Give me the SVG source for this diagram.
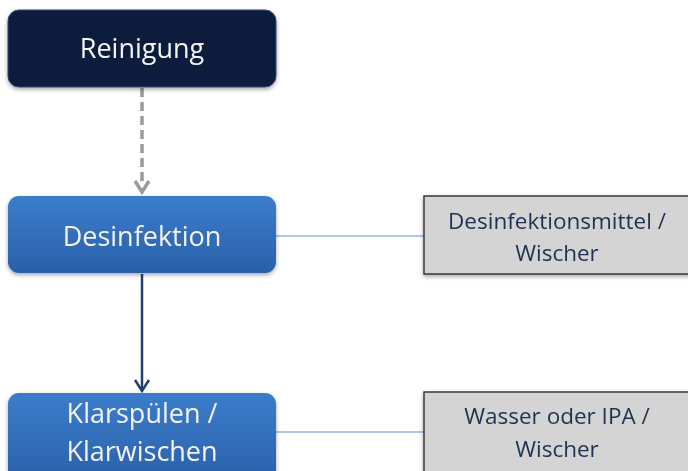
<svg xmlns="http://www.w3.org/2000/svg" width="688" height="471" viewBox="0 0 688 471">
<defs>
<linearGradient id="blue" x1="0" y1="0" x2="0" y2="1">
<stop offset="0" stop-color="#3b7dcb"/>
<stop offset="1" stop-color="#2a60aa"/>
</linearGradient>
<filter id="sh" x="-10%" y="-10%" width="120%" height="130%">
<feDropShadow dx="0" dy="2" stdDeviation="2" flood-color="#000" flood-opacity="0.35"/>
</filter>
</defs>
<style>
.node{filter:url(#sh)}
.t{font-family:"Open Sans","Liberation Sans",sans-serif;text-anchor:middle}
.w{fill:#f4f4f4;font-size:27px}
.g{fill:#1f3350;font-size:22.5px}
.gray{fill:#d4d4d4;stroke:#3a3a3a;stroke-width:1.5}
</style>
<g id="connectors">
<line x1="142" y1="88" x2="142" y2="186" stroke="#9a9a9a" stroke-width="3.5" stroke-dasharray="9,5"/>
<polyline points="135,181 142,192 149,181" fill="none" stroke="#9a9a9a" stroke-width="3.5"/>
<line x1="142" y1="274" x2="142" y2="390" stroke="#213f6e" stroke-width="2.5"/>
<polyline points="135,380 142,391 149,380" fill="none" stroke="#213f6e" stroke-width="2.5"/>
<line x1="276" y1="236" x2="424" y2="236" stroke="#5b8fd0" stroke-width="1.2"/>
<line x1="276" y1="432" x2="424" y2="432" stroke="#5b8fd0" stroke-width="1.2"/>
</g>
<g id="reinigung" class="node">
<rect x="8" y="10" width="268" height="77" rx="11" fill="#0b1f3c" stroke="#2d4a72" stroke-width="1"/>
<text class="t w" x="142" y="58">Reinigung</text>
</g>
<g id="desinfektion" class="node">
<rect x="8" y="196" width="268" height="77" rx="11" fill="url(#blue)"/>
<text class="t w" x="142" y="246">Desinfektion</text>
</g>
<g id="klarspuelen" class="node">
<rect x="8" y="393" width="268" height="90" rx="11" fill="url(#blue)"/>
<text class="t w" x="142" y="423">Klarspülen /</text>
<text class="t w" x="142" y="461">Klarwischen</text>
</g>
<g id="mittel1" class="node">
<rect class="gray" x="424" y="196" width="270" height="78"/>
<text class="t g" x="557" y="229">Desinfektionsmittel /</text>
<text class="t g" x="557" y="261">Wischer</text>
</g>
<g id="mittel2" class="node">
<rect class="gray" x="424" y="392" width="270" height="90"/>
<text class="t g" x="557" y="424">Wasser oder IPA /</text>
<text class="t g" x="557" y="457">Wischer</text>
</g>
</svg>
